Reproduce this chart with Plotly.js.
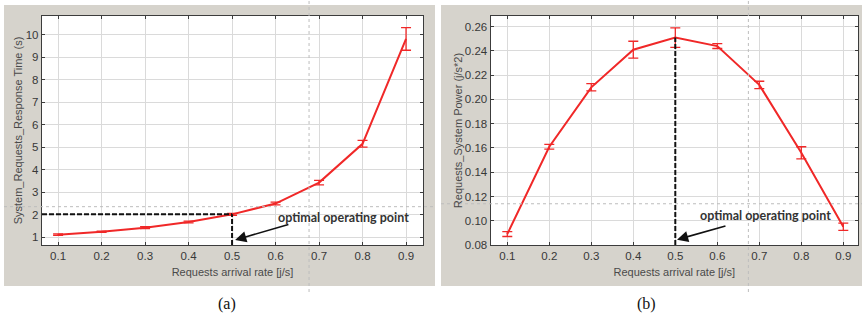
<!DOCTYPE html>
<html>
<head>
<meta charset="utf-8">
<script src="https://cdn.plot.ly/plotly-3.0.1.min.js"></script>
<style>html,body{margin:0;padding:0;background:#fff;}#chart{width:868px;height:330px;}</style>
</head>
<body>
<div id="chart"></div>
<script>
// ---- data ----
const arrivalRate = [0.1, 0.2, 0.3, 0.4, 0.5, 0.6, 0.7, 0.8, 0.9];
const responseTime = [1.12, 1.25, 1.43, 1.68, 2.02, 2.5, 3.43, 5.15, 9.8];
const responseTimeErr = [0.03, 0.03, 0.04, 0.04, 0.04, 0.06, 0.1, 0.15, 0.5];
const systemPower = [0.089, 0.161, 0.210, 0.241, 0.251, 0.244, 0.212, 0.156, 0.095];
const systemPowerErr = [0.002, 0.002, 0.003, 0.007, 0.008, 0.002, 0.003, 0.005, 0.003];
const xTickVals = [0.1, 0.2, 0.3, 0.4, 0.5, 0.6, 0.7, 0.8, 0.9];
const yTickVals1 = [1, 2, 3, 4, 5, 6, 7, 8, 9, 10];
const yTickVals2 = [0.08, 0.10, 0.12, 0.14, 0.16, 0.18, 0.20, 0.22, 0.24, 0.26];
const yTickText2 = ['0.08', '0.10', '0.12', '0.14', '0.16', '0.18', '0.20', '0.22', '0.24', '0.26'];
const optimalRate = 0.5;
const cursor1 = {x: 0.677, y: 2.36};
const cursor2 = {x: 0.674, y: 0.114};
const xTitle = 'Requests arrival rate [j/s]';
const yTitle1 = 'System_Requests_Response Time (s)';
const yTitle2 = 'Requests_System Power (j/s*2)';
const annText = 'optimal operating point';

const W = 868, H = 330;
const px = v => v / W;
const py = v => 1 - v / H;

const red = '#f02828';
const traces = [
  {x: arrivalRate, y: responseTime, type: 'scatter', mode: 'lines', xaxis: 'x', yaxis: 'y',
   line: {color: red, width: 2},
   error_y: {type: 'data', array: responseTimeErr, visible: true, color: red, thickness: 1.3, width: 5}},
  {x: arrivalRate, y: systemPower, type: 'scatter', mode: 'lines', xaxis: 'x2', yaxis: 'y2',
   line: {color: red, width: 2},
   error_y: {type: 'data', array: systemPowerErr, visible: true, color: red, thickness: 1.3, width: 5}}
];

const tickFont = {family: 'Liberation Sans, Arial, sans-serif', size: 11.5, color: '#383838'};
const titleFont = {family: 'Liberation Sans, Arial, sans-serif', size: 11, color: '#4a4a4a'};
const axisCommon = {
  showgrid: true, gridcolor: '#dadada', gridwidth: 1,
  showline: true, linecolor: '#3c3c3c', linewidth: 1.2, mirror: 'ticks',
  ticks: 'inside', ticklen: 3, tickcolor: '#3c3c3c', tickfont: tickFont,
  zeroline: false, fixedrange: true
};

const optIdx = arrivalRate.indexOf(optimalRate);
const x1Range = [0.063, 0.939];
const y1Range = [0.66, 10.82];
const x2Range = [0.0605, 0.935];
const y2Range = [0.08, 0.2688];
const dashStyle = {color: '#111', width: 2, dash: '5px,2px'};

const layout = {
  width: W, height: H,
  margin: {l: 0, r: 0, t: 0, b: 0},
  paper_bgcolor: '#ffffff', plot_bgcolor: '#ffffff',
  showlegend: false,
  xaxis: Object.assign({}, axisCommon, {domain: [px(42), px(423)], range: x1Range, tickvals: xTickVals,
    anchor: 'y', title: {text: xTitle, font: titleFont, standoff: 7}}),
  yaxis: Object.assign({}, axisCommon, {domain: [py(245), py(16)], range: y1Range, tickvals: yTickVals1,
    anchor: 'x', title: {text: yTitle1, font: titleFont, standoff: 0}}),
  xaxis2: Object.assign({}, axisCommon, {domain: [px(490.7), px(858)], range: x2Range, tickvals: xTickVals,
    anchor: 'y2', title: {text: xTitle, font: titleFont, standoff: 7}}),
  yaxis2: Object.assign({}, axisCommon, {domain: [py(245), py(16)], range: y2Range, tickvals: yTickVals2,
    ticktext: yTickText2, anchor: 'x2', title: {text: yTitle2, font: titleFont, standoff: 0}}),
  shapes: [
    // gray panels
    {type: 'rect', xref: 'paper', yref: 'paper', x0: px(4), x1: px(435), y0: py(286), y1: py(5),
     fillcolor: '#d6d3cc', line: {width: 0}, layer: 'below'},
    {type: 'rect', xref: 'paper', yref: 'paper', x0: px(441), x1: px(862), y0: py(286), y1: py(5),
     fillcolor: '#d6d3cc', line: {width: 0}, layer: 'below'},
    // white plot areas
    {type: 'rect', xref: 'x domain', yref: 'y domain', x0: 0, x1: 1, y0: 0, y1: 1,
     fillcolor: '#ffffff', line: {width: 0}, layer: 'below'},
    {type: 'rect', xref: 'x2 domain', yref: 'y2 domain', x0: 0, x1: 1, y0: 0, y1: 1,
     fillcolor: '#ffffff', line: {width: 0}, layer: 'below'},
    // cursor lines (left)
    {type: 'line', xref: 'x', yref: 'paper', x0: cursor1.x, x1: cursor1.x, y0: py(292), y1: 1,
     line: {color: '#bdbdbd', width: 1, dash: 'dot'}},
    {type: 'line', xref: 'paper', yref: 'y', x0: px(4), x1: px(435), y0: cursor1.y, y1: cursor1.y,
     line: {color: '#bdbdbd', width: 1, dash: 'dot'}},
    // cursor lines (right)
    {type: 'line', xref: 'x2', yref: 'paper', x0: cursor2.x, x1: cursor2.x, y0: py(292), y1: 1,
     line: {color: '#bdbdbd', width: 1, dash: 'dot'}},
    {type: 'line', xref: 'paper', yref: 'y2', x0: px(441), x1: px(862), y0: cursor2.y, y1: cursor2.y,
     line: {color: '#bdbdbd', width: 1, dash: 'dot'}},
    // dashed optimal lines (left)
    {type: 'line', xref: 'x', yref: 'y', x0: x1Range[0], x1: optimalRate, y0: responseTime[optIdx], y1: responseTime[optIdx],
     line: dashStyle},
    {type: 'line', xref: 'x', yref: 'y', x0: optimalRate, x1: optimalRate, y0: y1Range[0], y1: responseTime[optIdx],
     line: dashStyle},
    // dashed optimal line (right)
    {type: 'line', xref: 'x2', yref: 'y2', x0: optimalRate, x1: optimalRate, y0: y2Range[0], y1: systemPower[optIdx],
     line: dashStyle}
  ],
  annotations: [
    {xref: 'x', yref: 'y', x: 0.756, y: 1.9, text: '<b>' + annText + '</b>', showarrow: false,
     font: {family: 'Lato, Open Sans, sans-serif', size: 12.5, color: '#333'}},
    {xref: 'x', yref: 'y', axref: 'x', ayref: 'y', x: 0.507, y: 0.88, ax: 0.633, ay: 1.59, text: '',
     showarrow: true, arrowhead: 2, arrowsize: 1.4, arrowwidth: 1.6, arrowcolor: '#111'},
    {xref: 'x2', yref: 'y2', x: 0.7136, y: 0.1041, text: '<b>' + annText + '</b>', showarrow: false,
     font: {family: 'Lato, Open Sans, sans-serif', size: 12.5, color: '#333'}},
    {xref: 'x2', yref: 'y2', axref: 'x2', ayref: 'y2', x: 0.504, y: 0.0844, ax: 0.623, ay: 0.0961, text: '',
     showarrow: true, arrowhead: 2, arrowsize: 1.4, arrowwidth: 1.6, arrowcolor: '#111'},
    {xref: 'paper', yref: 'paper', x: px(216), y: py(315), text: '(a)', showarrow: false,
     font: {family: 'Liberation Serif, Times New Roman, serif', size: 16, color: '#111'}},
    {xref: 'paper', yref: 'paper', x: px(658), y: py(315), text: '(b)', showarrow: false,
     font: {family: 'Liberation Serif, Times New Roman, serif', size: 16, color: '#111'}}
  ]
};

Plotly.newPlot('chart', traces, layout, {displayModeBar: false, staticPlot: true});
</script>
</body>
</html>
